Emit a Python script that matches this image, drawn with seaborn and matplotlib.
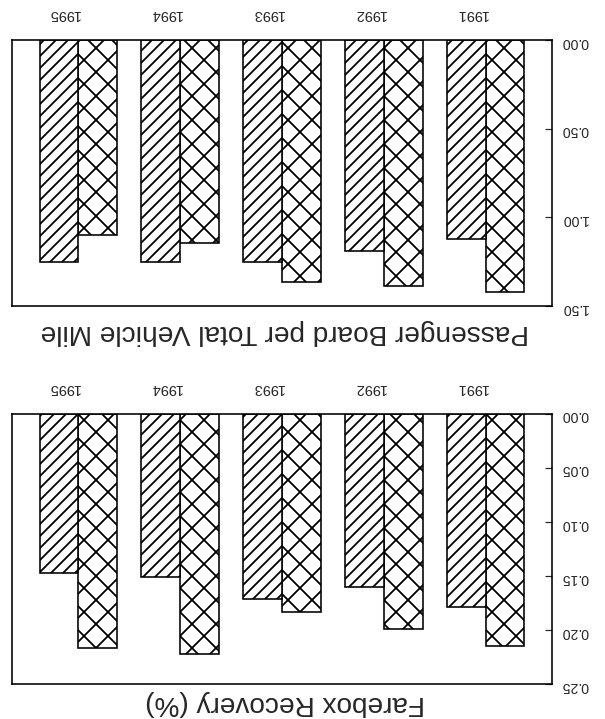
"""Two transit bar panels, reproduced as the scanned page shows them (turned 180 degrees)."""
import matplotlib
matplotlib.use("Agg")
import matplotlib.pyplot as plt
import seaborn as sns
import pandas as pd

sns.set_style("ticks")
plt.rcParams["font.family"] = ["Liberation Sans", "DejaVu Sans"]
plt.rcParams["hatch.linewidth"] = 1.8

# Data
years = [1991, 1992, 1993, 1994, 1995]
boardings_striped = [1.12, 1.19, 1.25, 1.25, 1.25]
boardings_crossed = [1.42, 1.39, 1.365, 1.145, 1.10]
farebox_striped = [0.179, 0.160, 0.171, 0.151, 0.147]
farebox_crossed = [0.215, 0.199, 0.183, 0.222, 0.217]

boardings_ticks = [0.0, 0.5, 1.0, 1.5]
farebox_ticks = [0.0, 0.05, 0.10, 0.15, 0.20, 0.25]

boardings_title = "Passenger Board per Total Vehicle Mile"
farebox_title = "Farebox Recovery (%)"


def draw_panel(ax, crossed, striped, ticks, title, title_y):
  """Draw one grouped bar panel, upside down like the scan."""
  df = pd.DataFrame({
    "Year": years * 2,
    "Value": crossed + striped,
    "Series": ["crossed"] * len(years) + ["striped"] * len(years),
  })

  sns.barplot(
    df,
    x="Year",
    y="Value",
    hue="Series",
    order=years,
    hue_order=["crossed", "striped"],
    palette={"crossed": "white", "striped": "white"},
    saturation=1,
    width=0.76,
    edgecolor="black",
    linewidth=1.6,
    errorbar=None,
    legend=False,
    ax=ax,
  )

  for container, hatch in zip(ax.containers, ["x", "//"]):
    for bar in container:
      bar.set_hatch(hatch)

  # Page is turned over: both axes run backwards
  ax.set_xlim(4.65, -0.65)
  ax.set_ylim(ticks[-1], 0)

  ax.yaxis.tick_right()
  ax.xaxis.tick_top()
  # year labels sit a little off the group centres on the scan
  ax.set_xticks([i + 0.14 for i in range(len(years))])
  ax.set_xticklabels([str(y) for y in years])
  ax.set_yticks(ticks)
  ax.set_yticklabels([f"{t:.2f}" for t in ticks], rotation=180)
  ax.tick_params(axis="y", direction="in", length=7, width=1.2,
                 pad=9, labelsize=14)
  ax.tick_params(axis="x", length=0, pad=19, labelsize=14.5,
                 labelrotation=180)
  ax.set_xlabel("")
  ax.set_ylabel("")

  for spine in ax.spines.values():
    spine.set_visible(True)
    spine.set_linewidth(1.6)
    spine.set_color("black")

  ax.text(0.505, title_y, title, transform=ax.transAxes, rotation=180,
          ha="center", va="center", fontsize=28)


fig = plt.figure(figsize=(605 / 72, 719 / 72), dpi=72)
ax_top = fig.add_axes([12 / 605, 413 / 719, 540 / 605, 266 / 719])
ax_bot = fig.add_axes([12 / 605, 35 / 719, 540 / 605, 270 / 719])

draw_panel(ax_top, boardings_crossed, boardings_striped, boardings_ticks,
           boardings_title, -0.098)
draw_panel(ax_bot, farebox_crossed, farebox_striped, farebox_ticks,
           farebox_title, -0.072)

fig.savefig("out.png", dpi=72)
